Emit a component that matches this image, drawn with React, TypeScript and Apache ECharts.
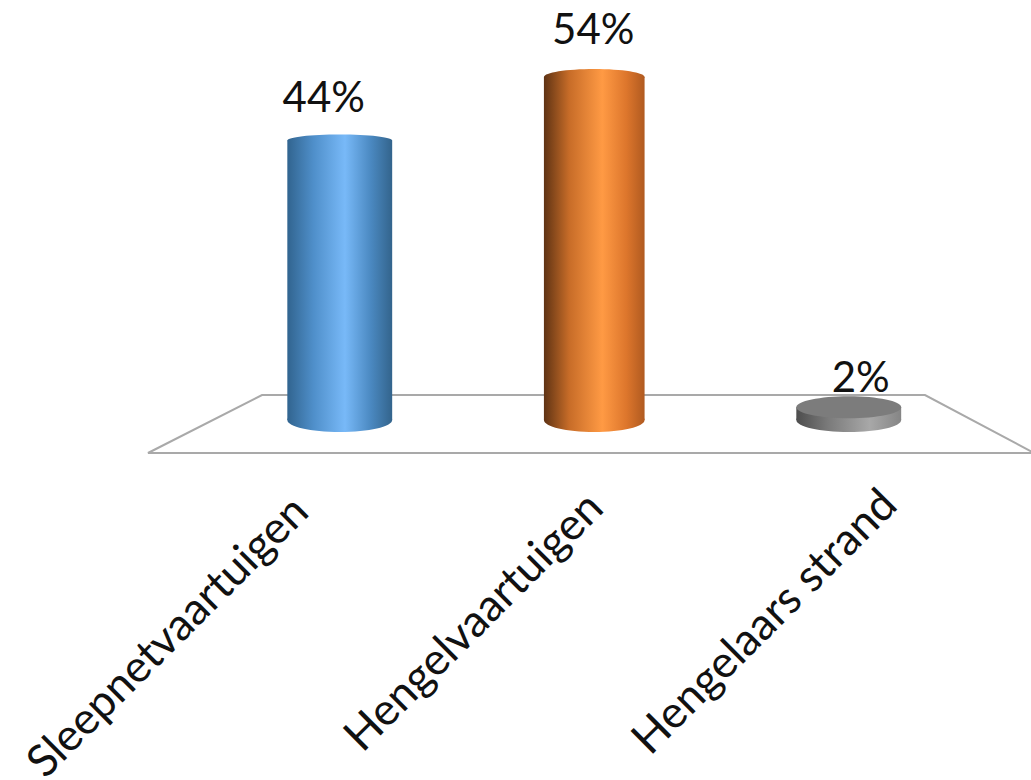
import React, { useEffect, useRef } from "react";
import * as echarts from "echarts";

const categories = ["Sleepnetvaartuigen", "Hengelvaartuigen", "Hengelaars strand"];
const percentages = [44, 54, 2];

const FONT = "Lato, Carlito, 'Open Sans', sans-serif";
const bodyStops = [
  [[0, "#31648f"], [0.25, "#4f8fca"], [0.55, "#78b9f8"], [0.8, "#4a88c0"], [1, "#33648c"]],
  [[0, "#5f3314"], [0.25, "#c76c28"], [0.58, "#ff9a44"], [0.82, "#dd762c"], [1, "#b05a20"]],
  [[0, "#4d4d4d"], [0.3, "#7a7a7a"], [0.7, "#a8a8a8"], [1, "#858585"]],
];
const capFill = [null, null, "#7c7c7c"];
const capRy = [6, 8, 11];
const radiusScale = [1, 0.96, 1];
const labelNudge = [[-16, -45], [-1, -49], [12, -31]];
const tickPad = [[9, 63], [61, 32], [112, 2]];

const grad = (stops: any[]) => ({
  type: "linear", x: 0, y: 0, x2: 1, y2: 0,
  colorStops: stops.map(([offset, color]) => ({ offset, color })),
});

function renderCylinder(params: any, api: any) {
  const i = api.value(0);
  const v = api.value(1);
  const [cx, top] = api.coord([i, v]);
  const [, base] = api.coord([i, 0]);
  const rx = api.size([1, 0])[0] * 0.206 * radiusScale[i];
  const fill = grad(bodyStops[i]);
  const [nx, ny] = labelNudge[i];
  return {
    type: "group",
    children: [
      { type: "ellipse", shape: { cx, cy: base, rx, ry: 12 }, style: { fill } },
      { type: "rect", shape: { x: cx - rx, y: top, width: rx * 2, height: base - top }, style: { fill } },
      { type: "ellipse", shape: { cx, cy: top, rx, ry: capRy[i] }, style: { fill: capFill[i] || fill } },
      {
        type: "text",
        style: {
          text: `${v}%`, x: cx + nx, y: top + ny, fill: "#111",
          font: `42px ${FONT}`, textAlign: "center", textVerticalAlign: "middle",
        },
      },
    ],
  };
}

export default function App() {
  const ref = useRef<HTMLDivElement>(null);
  useEffect(() => {
    const chart = echarts.init(ref.current!, null, { renderer: "svg" });
    const rich: any = {};
    tickPad.forEach(([t, r], i) => {
      rich[`c${i}`] = { fontFamily: FONT, fontSize: 44.5, color: "#111", padding: [t, r, 0, 0] };
    });
    chart.setOption({
      animation: false,
      backgroundColor: "#fff",
      grid: { left: 212.5, top: 39, width: 763.5, height: 381, outerBoundsMode: "none" },
      xAxis: {
        type: "category",
        data: categories,
        axisLine: { show: false },
        axisTick: { show: false },
        axisLabel: {
          interval: 0,
          hideOverlap: false,
          rotate: 45,
          margin: 34,
          formatter: (val: string) => `{c${categories.indexOf(val)}|${val}}`,
          rich,
        },
      },
      yAxis: { type: "value", min: 0, max: 60, show: false },
      graphic: [
        {
          type: "polygon", silent: true, z: 0,
          shape: { points: [[148, 453], [262, 395], [925, 395], [1034, 453]] },
          style: { fill: "#fff", stroke: "#a9a9a9", lineWidth: 2 },
        },
      ],
      series: [
        {
          type: "custom",
          z: 5,
          clip: false,
          renderItem: renderCylinder,
          encode: { x: 0, y: 1 },
          data: percentages.map((v, i) => [i, v]),
        },
      ],
    });
    return () => chart.dispose();
  }, []);
  return <div ref={ref} style={{ position: "fixed", left: 0, top: 0, width: 1031, height: 780 }} />;
}
